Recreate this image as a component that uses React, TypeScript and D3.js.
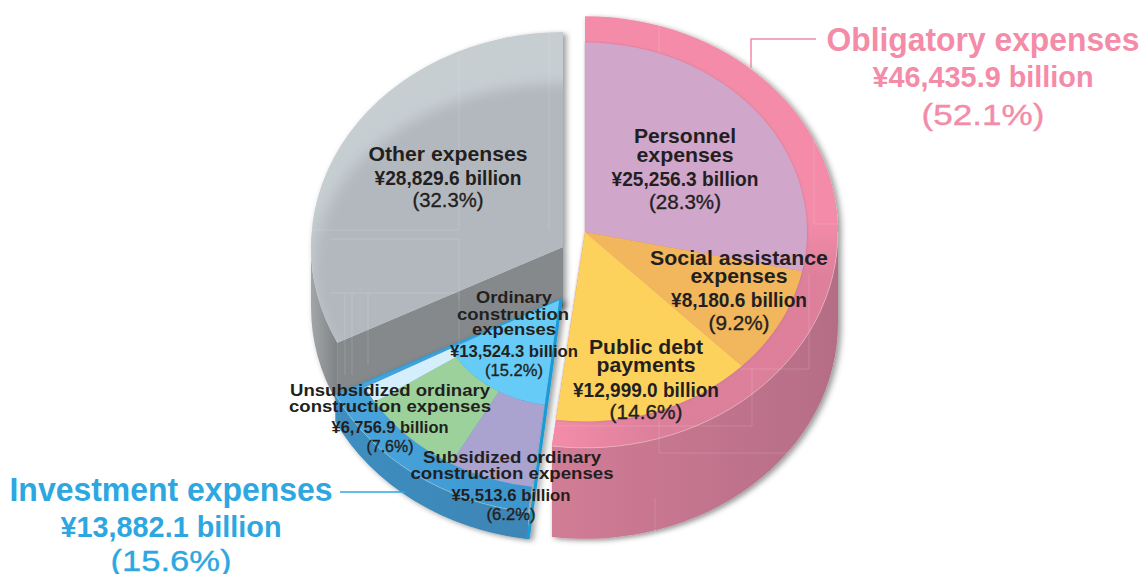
import React from "react";
import * as d3 from "d3";

// ---- data (billion yen) ----
const obligatoryNames = ["Personnel", "Social assistance", "Public debt"];
const obligatoryValues = [25256.3, 8180.6, 12999.0];
const obligatoryColors = ["#d0a6cb", "#f2b65c", "#fcd25b"];
const investmentTotal = 13882.1;
const obligatoryTotal = 46435.9;
const otherTotal = 28829.6;
const ordinaryConstruction = 13524.3;
const subsidized = 5513.6;
const unsubsidized = 6756.9;
const grandTotal = obligatoryTotal + investmentTotal + otherTotal;

const angle = d3.scaleLinear().domain([0, grandTotal]).range([0, 2 * Math.PI]);

// ---- geometry ----
const W = 1142, H = 574;
const R = 252, RI = 222, RC = 125, K = 215 / 252;
const right = { cx: 585, cy: 232, depth: 91 };
const blue = { cx: 561, cy: 299, depth: 27 };
const gray = { cx: 563, cy: 247, depth: 60 };

const arcGen = d3.arc<any>();
const sector = (r0: number, r1: number, a0: number, a1: number) =>
  arcGen({ innerRadius: r0, outerRadius: r1, startAngle: a0, endAngle: a1 }) as string;

// outer wall of an extruded sector, drawn in the squeezed coordinates of the ellipse
const wall = (r: number, a0: number, a1: number, depth: number) => {
  const p = d3.path();
  const d = depth / K;
  const c0 = a0 - Math.PI / 2, c1 = a1 - Math.PI / 2;
  p.moveTo(r * Math.cos(c0), r * Math.sin(c0));
  p.arc(0, 0, r, c0, c1, false);
  p.lineTo(r * Math.cos(c1), r * Math.sin(c1) + d);
  p.arc(0, d, r, c1, c0, true);
  p.closePath();
  return p.toString();
};
const rim = (r: number, a0: number, a1: number) => {
  const p = d3.path();
  const c0 = a0 - Math.PI / 2, c1 = a1 - Math.PI / 2;
  p.moveTo(r * Math.cos(c0), r * Math.sin(c0));
  p.arc(0, 0, r, c0, c1, false);
  return p.toString();
};
const onRim = (r: number, a: number) => [r * Math.sin(a), -r * Math.cos(a)] as [number, number];

const oblPie = d3.pie<number>().sort(null).startAngle(0).endAngle(angle(obligatoryTotal));
const oblArcs = oblPie(obligatoryValues);

const invStart = angle(obligatoryTotal);
const invEnd = angle(obligatoryTotal + investmentTotal);
const subEnd = invStart + angle(subsidized);
const unsubEnd = subEnd + angle(unsubsidized);
const ordEnd = invStart + angle(ordinaryConstruction);

// ---- label layout: text, centre x, baseline y, width, size, bold ----
const PINK = "#f48ba8", BLUE = "#2ea7e0", INK = "#231f20";
type L = [string, number, number, number, number, boolean, string?];
const labels: L[] = [
  ["Obligatory expenses", 983, 51, 313, 34, true, PINK],
  ["¥46,435.9 billion", 983, 87, 221, 30, true, PINK],
  ["(52.1%)", 983, 125, 123, 30, false, PINK],
  ["Investment expenses", 171, 501, 323, 34, true, BLUE],
  ["¥13,882.1 billion", 171, 537, 221, 30, true, BLUE],
  ["(15.6%)", 171, 571, 121, 30, false, BLUE],
  ["Personnel", 685, 143, 102, 21, true],
  ["expenses", 685, 162, 97, 21, true],
  ["¥25,256.3 billion", 685, 186, 147, 20, true],
  ["(28.3%)", 685, 209, 72, 21, false],
  ["Other expenses", 448, 161, 159, 21, true],
  ["¥28,829.6 billion", 448, 185, 147, 20, true],
  ["(32.3%)", 448, 207, 71, 21, false],
  ["Social assistance", 739, 265, 178, 21, true],
  ["expenses", 739, 283, 97, 21, true],
  ["¥8,180.6 billion", 739, 307, 136, 20, true],
  ["(9.2%)", 739, 330, 61, 21, false],
  ["Public debt", 646, 354, 114, 21, true],
  ["payments", 646, 372, 99, 21, true],
  ["¥12,999.0 billion", 646, 397, 146, 20, true],
  ["(14.6%)", 646, 419, 73, 21, false],
  ["Ordinary", 514, 303, 76, 17, true],
  ["construction", 513, 320, 112, 17, true],
  ["expenses", 514, 335, 84, 17, true],
  ["¥13,524.3 billion", 514, 357, 128, 17, true],
  ["(15.2%)", 514, 376, 58, 17, false],
  ["Unsubsidized ordinary", 390, 396, 200, 17, true],
  ["construction expenses", 390, 412, 202, 17, true],
  ["¥6,756.9 billion", 390, 433, 117, 17, true],
  ["(7.6%)", 390, 452, 47, 16, false],
  ["Subsidized ordinary", 512, 463, 178, 17, true],
  ["construction expenses", 512, 479, 203, 17, true],
  ["¥5,513.6 billion", 511, 501, 119, 17, true],
  ["(6.2%)", 511, 520, 49, 16, false],
];

const leaderObl = [[816, 39], [751, 39], [751, 68]] as [number, number][];
const leaderInv = [[340, 492], [405, 492]] as [number, number][];
const line = d3.line();

// faint hairlines printed over the artwork
const hairlines: [number, number][][] = [
  [[740, 369], [809, 369], [809, 274]],
  [[556, 426], [752, 426], [752, 369]],
  [[659, 420], [659, 453], [790, 453]],
  [[655, 498], [655, 537]],
  [[659, 25], [659, 53]],
  [[814, 140], [814, 224], [838, 224]],
  [[459, 55], [459, 230], [312, 230]],
  [[549, 32], [549, 230]],
  [[459, 239], [459, 300]],
  [[330, 239], [459, 239]],
  [[330, 293], [459, 293], [459, 345]],
  [[345, 293], [345, 375]],
  [[352, 293], [352, 375]],
  [[368, 293], [368, 365]],
];

export default function App() {
  const [ax, ay] = onRim(R, invEnd + 0);
  const grayStart = 2 * Math.PI - angle(otherTotal);
  const [gx, gy] = onRim(R, grayStart);
  const grayWall = line([
    [0, 0],
    [gx, gy],
    [gx, gy + gray.depth / K],
    [0, gray.depth / K],
  ]) as string;
  const [bx, by] = onRim(R, invStart);
  const blueEdge = line([[0, 0], [bx, by + blue.depth / K]]) as string;
  const blueEdgeTop = line([[0, 0], [ax, ay]]) as string;

  return (
    <svg width={W} height={H} viewBox={`0 0 ${W} ${H}`}
      style={{ position: "absolute", left: 0, top: 0, display: "block" }}
      fontFamily="'Liberation Sans', Arial, sans-serif">
      <defs>
        <filter id="shadow" x="-10%" y="-10%" width="125%" height="125%">
          <feDropShadow dx="3" dy="2" stdDeviation="3" floodColor="#000" floodOpacity="0.42" />
        </filter>
        <filter id="soft" x="-10%" y="-10%" width="120%" height="120%">
          <feDropShadow dx="0" dy="0" stdDeviation="1" floodColor="#7a4a60" floodOpacity="0.4" />
        </filter>
        <filter id="blur"><feGaussianBlur stdDeviation="7" /></filter>
        <linearGradient id="ring" x1="0" y1="0" x2="0" y2="1">
          <stop offset="0.47" stopColor="#f48ca9" />
          <stop offset="0.6" stopColor="#de809c" />
          <stop offset="1" stopColor="#dc7f9b" />
        </linearGradient>
        <linearGradient id="ringGlow" x1="1" y1="0" x2="0" y2="0">
          <stop offset="0" stopColor="#f48ca9" stopOpacity="0" />
          <stop offset="1" stopColor="#f48ca9" />
        </linearGradient>
        <linearGradient id="rightWall" x1="0" y1="0" x2="1" y2="0">
          <stop offset="0" stopColor="#d27c96" />
          <stop offset="1" stopColor="#b56d86" />
        </linearGradient>
        <linearGradient id="blueTop" x1="0" y1="0" x2="1" y2="0">
          <stop offset="0" stopColor="#4aa6de" />
          <stop offset="1" stopColor="#3a94cc" />
        </linearGradient>
        <linearGradient id="blueWall" x1="0" y1="0" x2="1" y2="0">
          <stop offset="0" stopColor="#3f8dc0" />
          <stop offset="1" stopColor="#3c86b6" />
        </linearGradient>
        <linearGradient id="graySide" x1="0" y1="0" x2="1" y2="0">
          <stop offset="0" stopColor="#a2a6a9" />
          <stop offset="1" stopColor="#7f8386" />
        </linearGradient>
        <clipPath id="grayClip">
          <path d={sector(0, R, grayStart, 2 * Math.PI)} />
        </clipPath>
      </defs>

      {/* Other expenses */}
      <g transform={`translate(${gray.cx},${gray.cy}) scale(1,${K})`} filter="url(#shadow)">
        <path d={wall(R, grayStart, 1.5 * Math.PI, gray.depth)} fill="url(#graySide)" />
        <path d={grayWall} fill="#85898c" />
        <path d={sector(0, R, grayStart, 2 * Math.PI)} fill="#c6ced2" />
      </g>
      <g transform={`translate(${gray.cx},${gray.cy}) scale(1,${K})`} clipPath="url(#grayClip)">
        <ellipse cx={0} cy={27} rx={250} ry={187 / K} fill="#b3b8be" filter="url(#blur)" />
      </g>

      {/* Investment expenses */}
      <g transform={`translate(${blue.cx},${blue.cy}) scale(1,${K})`} filter="url(#shadow)">
        <path d={wall(R, invStart, invEnd, blue.depth)} fill="url(#blueWall)" />
        <path d={sector(0, R, invStart, invEnd)} fill="url(#blueTop)" />
        <path d={rim(R, invStart, invEnd)} fill="none" stroke="#fff" strokeOpacity={0.3} />
        <path d={sector(RC, RI, invStart, subEnd)} fill="#aaa2cf" />
        <path d={sector(RC, RI, subEnd, unsubEnd)} fill="#9dd19b" />
        <path d={sector(RC, RI, unsubEnd, ordEnd)} fill="#d5eefb" />
        <path d={sector(0, RC, invStart, ordEnd)} fill="#66ccf7" />
        <path d={blueEdge} fill="none" stroke="#1f9ad6" strokeWidth={3.2} />
        <path d={blueEdgeTop} fill="none" stroke="#2a9fd9" strokeWidth={1.2} />
      </g>

      {/* Obligatory expenses */}
      <g transform={`translate(${right.cx},${right.cy}) scale(1,${K})`}>
        <g filter="url(#shadow)">
          <path d={wall(R + 1, Math.PI / 2, invStart, right.depth)} fill="url(#rightWall)" />
          <path d={sector(0, R + 1, 0, invStart)} fill="url(#ring)" />
        </g>
        <path d={sector(RI, R + 1, angle(obligatoryTotal) - 0.42, invStart)} fill="url(#ringGlow)" />
        <path d={rim(R + 1, Math.PI / 2, invStart)} fill="none" stroke="#fff" strokeOpacity={0.35} />
        <g filter="url(#soft)">
          {oblArcs.map((a, i) => (
            <path key={obligatoryNames[i]} d={sector(0, RI, a.startAngle, a.endAngle)} fill={obligatoryColors[i]} />
          ))}
        </g>
      </g>

      {hairlines.map((h, i) => (
        <path key={i} d={line(h) as string} fill="none" stroke="#fff" strokeOpacity={0.14} strokeWidth={1} />
      ))}

      <path d={line(leaderObl) as string} fill="none" stroke={PINK} strokeWidth={1.5} />
      <path d={line(leaderInv) as string} fill="none" stroke={BLUE} strokeWidth={1.5} />

      {labels.map(([t, x, y, w, s, b, c], i) => (
        <text key={i} x={x} y={y} textAnchor="middle" fontSize={s} fontWeight={b ? 700 : 400}
          fill={c ?? INK} stroke={b ? "none" : (c ?? INK)} strokeWidth={b ? 0 : 0.35}
          textLength={w} lengthAdjust="spacingAndGlyphs">{t}</text>
      ))}
    </svg>
  );
}
